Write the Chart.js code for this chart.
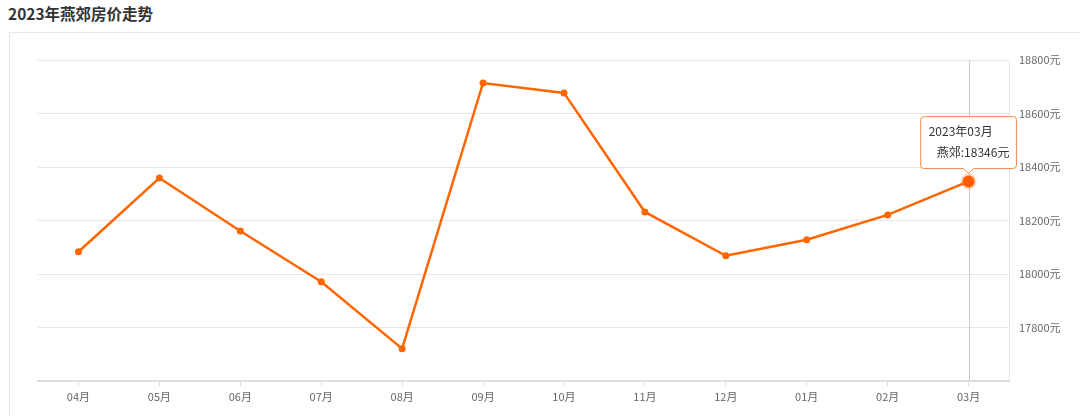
<!DOCTYPE html>
<html>
<head>
<meta charset="utf-8">
<script src="https://cdn.jsdelivr.net/npm/chart.js@4"></script>
<style>
  html, body { margin: 0; padding: 0; background: #fff; }
  body { width: 1080px; height: 416px; position: relative; overflow: hidden; font-family: "Noto Sans CJK SC", sans-serif; }
  #title { position: absolute; left: 8px; top: 2px; font-size: 15.5px; font-weight: bold; color: #333; }
  #box { position: absolute; left: 9px; top: 32px; width: 1100px; height: 420px; border: 1px solid #e8e8e8; }
  #wrap { position: absolute; left: 0; top: 0; width: 1080px; height: 416px; }
</style>
</head>
<body>
<div id="title">2023年燕郊房价走势</div>
<div id="box"></div>
<div id="wrap"><canvas id="lineChart"></canvas></div>
<script>
// 月份 & 均价（元/平）
var months = ["04月", "05月", "06月", "07月", "08月", "09月", "10月", "11月", "12月", "01月", "02月", "03月"];
var fullMonths = ["2022年04月", "2022年05月", "2022年06月", "2022年07月", "2022年08月", "2022年09月",
                  "2022年10月", "2022年11月", "2022年12月", "2023年01月", "2023年02月", "2023年03月"];
var prices = [18083, 18359, 18161, 17971, 17721, 18714, 18677, 18232, 18068, 18128, 18221, 18346];
var yTicks = [17800, 18000, 18200, 18400, 18600, 18800];
var seriesName = "燕郊";
var activeIndex = 11;

var orange = "#ff6600";
var font = { family: '"Noto Sans CJK SC", sans-serif', size: 11 };

// vertical hover line
var crossLine = {
  id: 'crossLine',
  beforeDatasetsDraw: function (chart) {
    var ctx = chart.ctx, area = chart.chartArea;
    var x = chart.scales.x.getPixelForValue(activeIndex);
    ctx.save();
    ctx.strokeStyle = "#cccccc";
    ctx.lineWidth = 1;
    ctx.beginPath();
    ctx.moveTo(Math.round(x) + 0.5, area.top);
    ctx.lineTo(Math.round(x) + 0.5, area.bottom);
    ctx.stroke();
    ctx.restore();
  }
};

var ctx = document.getElementById("lineChart").getContext('2d');
var chart = new Chart(ctx, {
  type: 'line',
  data: {
    labels: months,
    datasets: [{
      label: seriesName,
      data: prices,
      borderColor: orange,
      backgroundColor: orange,
      borderWidth: 2.5,
      pointRadius: 3.5,
      pointBackgroundColor: orange,
      pointBorderWidth: 0,
      pointHoverRadius: 6,
      pointHoverBackgroundColor: "#ff5a00",
      pointHoverBorderColor: "rgba(255,102,0,0.25)",
      pointHoverBorderWidth: 4,
      tension: 0,
      fill: false
    }]
  },
  options: {
    responsive: true,
    maintainAspectRatio: false,
    animation: false,
    events: [],
    layout: { padding: { left: 38, top: 60, right: 0, bottom: 0 } },
    scales: {
      x: {
        offset: true,
        grid: { offset: false, drawOnChartArea: false, drawTicks: true, tickLength: 5, color: "#dddddd" },
        border: { display: true, color: "#dddddd", width: 2 },
        ticks: { color: "#666", font: font, padding: 4, maxRotation: 0, autoSkip: false },
        afterFit: function (s) { s.height = 35; }
      },
      y: {
        position: 'right',
        min: 17600,
        max: 18800,
        grid: { color: "#e6e6e6", drawTicks: false },
        border: { display: true, color: "#e6e6e6" },
        afterBuildTicks: function (s) {
          s.ticks = [{ value: 17600 }].concat(yTicks.map(function (v) { return { value: v }; }));
        },
        ticks: {
          color: "#666",
          font: font,
          padding: 10,
          callback: function (v) { return yTicks.indexOf(v) >= 0 ? v + "元" : ""; }
        },
        afterFit: function (s) { s.width = 71; }
      }
    },
    plugins: {
      legend: { display: false },
      tooltip: {
        enabled: true,
        backgroundColor: "#ffffff",
        borderColor: "#f5894a",
        borderWidth: 1,
        cornerRadius: 3,
        caretSize: 5,
        caretPadding: 8,
        xAlign: 'center',
        yAlign: 'bottom',
        displayColors: false,
        padding: { left: 8, right: 7, top: 8, bottom: 9 },
        titleColor: "#333",
        bodyColor: "#333",
        titleFont: { family: font.family, size: 12, weight: 'normal' },
        bodyFont: { family: font.family, size: 12 },
        titleMarginBottom: 6,
        titleAlign: 'left',
        bodyAlign: 'right',
        callbacks: {
          title: function (items) { return fullMonths[items[0].dataIndex]; },
          label: function (item) { return "   " + seriesName + ":" + item.raw + "元"; }
        }
      }
    }
  },
  plugins: [crossLine]
});

var act = [{ datasetIndex: 0, index: activeIndex }];
chart.setActiveElements(act);
var pt = chart.getDatasetMeta(0).data[activeIndex];
chart.tooltip.setActiveElements(act, { x: pt.x, y: pt.y });
chart.update();
</script>
</body>
</html>
